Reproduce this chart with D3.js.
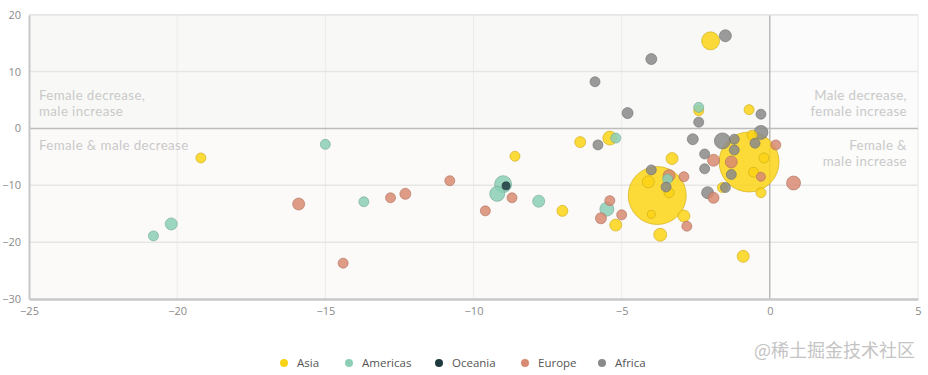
<!DOCTYPE html>
<html><head><meta charset="utf-8">
<script src="https://cdn.jsdelivr.net/npm/d3@7"></script>
<style>
html,body{margin:0;padding:0;background:#fff;}
svg{display:block;font-family:"Open Sans",Lato,sans-serif;}
</style></head>
<body><svg id="chart" width="928" height="375"></svg>
<script>
// [female change %, male change %, population (millions, size)]
const asia = [
  [-19.2,-5.2,39],[-6.4,-2.4,47],[-5.4,-1.7,76],[-8.6,-4.9,39],[-7.0,-14.5,47],
  [-5.2,-17.0,56],[-2.0,15.4,126],[-2.4,3.1,39],[-0.7,3.3,39],[-0.6,-1.2,39],
  [-3.3,-5.3,56],[-0.2,-5.2,39],[-0.55,-7.7,39],[-3.8,-11.8,1310],[-0.7,-5.9,1400],
  [-4.1,-9.4,56],[-3.4,-11.3,39],[-4.0,-15.1,25],[-2.9,-15.4,56],[-3.7,-18.7,66],
  [-0.9,-22.5,56],[-0.3,-11.3,39],[-1.6,-10.4,39]
];
const americas = [
  [-20.8,-18.9,39],[-20.2,-16.8,56],[-15.0,-2.8,39],[-13.7,-12.9,39],[-9.0,-9.8,112],
  [-9.2,-11.5,88],[-7.8,-12.8,56],[-5.5,-14.2,76],[-5.2,-1.7,39],[-2.4,3.7,39],
  [-3.45,-8.9,39]
];
const oceania = [
  [-8.9,-10.1,25]
];
const europe = [
  [-15.9,-13.3,56],[-12.8,-12.2,39],[-12.3,-11.5,47],[-10.8,-9.2,39],[-14.4,-23.7,39],
  [-8.7,-12.2,39],[-9.6,-14.5,39],[-5.4,-12.7,39],[-5.7,-15.8,47],[-5.0,-15.2,39],
  [-1.9,-5.6,56],[-1.3,-5.9,56],[0.2,-2.9,39],[-0.3,-8.5,32],[0.8,-9.6,76],
  [-1.9,-12.2,47],[-3.4,-8.3,56],[-2.9,-8.5,39],[-2.8,-17.2,39]
];
const africa = [
  [-5.9,8.2,39],[-5.8,-2.9,39],[-4.0,12.2,47],[-1.5,16.3,56],[-4.8,2.7,47],
  [-2.4,1.1,39],[-0.3,2.5,39],[-2.6,-1.9,47],[-1.6,-2.2,100],[-1.2,-1.9,39],
  [-0.3,-0.7,76],[-0.5,-2.6,39],[-1.2,-3.8,39],[-2.2,-4.5,39],[-2.2,-7.1,39],
  [-4.0,-7.3,39],[-1.3,-8.1,39],[-2.1,-11.3,56],[-1.5,-10.4,39],[-3.5,-10.3,39]
];
const regions = ["Asia","Americas","Oceania","Europe","Africa"];
const regionColors = ["#fbd316","#8ccfb6","#1f3a3e","#d88a72","#8a8a8a"];
const xTicks = [-25,-20,-15,-10,-5,0,5];
const yTicks = [20,10,0,-10,-20,-30];
const quadrantLabels = [
  {t:["Female decrease,","male increase"], side:"left", q:"top"},
  {t:["Female & male decrease"], side:"left", q:"bottom"},
  {t:["Male decrease,","female increase"], side:"right", q:"top"},
  {t:["Female &","male increase"], side:"right", q:"bottom"}
];

const seriesData = [asia, americas, oceania, europe, africa];
const points = [];
seriesData.forEach((arr,i)=>arr.forEach(d=>points.push({x:d[0],y:d[1],pop:d[2],region:regions[i]})));

const svg = d3.select("#chart");
const x = d3.scaleLinear().domain([-25,5]).range([29,918]);
const y = d3.scaleLinear().domain([-30,20]).range([299,14.7]);
const r = d3.scaleSqrt().domain([0,1400]).range([0,30]);
const color = d3.scaleOrdinal().domain(regions).range(regionColors);

// quadrant backgrounds
const quads = [
  {x0:-25,x1:0,y0:0,y1:20,c:"#f8f9f7"},
  {x0:-25,x1:0,y0:-30,y1:0,c:"#fcfaf9"},
  {x0:0,x1:5,y0:0,y1:20,c:"#fafbfa"},
  {x0:0,x1:5,y0:-30,y1:0,c:"#fcfcfb"}
];
svg.append("g").selectAll("rect").data(quads).join("rect")
  .attr("x",d=>x(d.x0)).attr("width",d=>x(d.x1)-x(d.x0))
  .attr("y",d=>y(d.y1)).attr("height",d=>y(d.y0)-y(d.y1))
  .attr("fill",d=>d.c);

// grid
const grid = svg.append("g");
grid.selectAll(".vg").data(xTicks.filter(t=>t>-25&&t<5&&t!==0)).join("line")
  .attr("x1",d=>x(d)).attr("x2",d=>x(d)).attr("y1",y(20)).attr("y2",y(-30))
  .attr("stroke","#ebebeb").attr("stroke-width",1);
grid.selectAll(".hg").data(yTicks.filter(t=>t!==0&&t!==-30)).join("line")
  .attr("x1",x(-25)).attr("x2",x(5)).attr("y1",d=>y(d)).attr("y2",d=>y(d))
  .attr("stroke","#e6e6e6").attr("stroke-width",1.5);
grid.append("line").attr("x1",x(5)).attr("x2",x(5)).attr("y1",y(20)).attr("y2",y(-30))
  .attr("stroke","#e8e8e8").attr("stroke-width",1);
grid.append("line").attr("x1",x(0)).attr("x2",x(0)).attr("y1",y(20)).attr("y2",y(-30))
  .attr("stroke","#9a9a9a").attr("stroke-width",1);
grid.append("line").attr("x1",x(-25)).attr("x2",x(5)).attr("y1",y(0)).attr("y2",y(0))
  .attr("stroke","#bcbcbc").attr("stroke-width",1.5);

// quadrant labels (one text per line)
const ql = svg.append("g").attr("font-size",13.3).attr("fill","#c9c9c9")
  .attr("font-family","Lato,'Open Sans',sans-serif").attr("letter-spacing",0.4);
quadrantLabels.forEach(l=>{
  const tx = l.side==="left" ? x(-25)+10 : x(5)-11;
  const anchor = l.side==="left" ? "start" : "end";
  const ty0 = l.q==="top" ? y(0)-28 : y(0)+22;
  l.t.forEach((s,i)=>ql.append("text").attr("text-anchor",anchor)
    .attr("x",tx).attr("y",ty0+i*16).text(s));
});

// axes
const xAxis = svg.append("g").attr("transform",`translate(0,${y(-30)})`)
  .call(d3.axisBottom(x).tickValues(xTicks).tickSize(0).tickPadding(8));
xAxis.select(".domain").attr("stroke","#c8c8c8").attr("stroke-width",2.5);
xAxis.selectAll("text").attr("fill","#8a8a8a").attr("font-size",11).attr("font-family","'Open Sans',Lato,sans-serif");
const yAxis = svg.append("g").attr("transform",`translate(${x(-25)},0)`)
  .call(d3.axisLeft(y).tickValues(yTicks).tickSize(0).tickPadding(8));
yAxis.select(".domain").attr("stroke","#c8c8c8").attr("stroke-width",2);
yAxis.selectAll("text").attr("fill","#8a8a8a").attr("font-size",11).attr("font-family","'Open Sans',Lato,sans-serif");
svg.append("line").attr("x1",x(-25)).attr("x2",x(5)).attr("y1",y(20)).attr("y2",y(20))
  .attr("stroke","#e6e6e6").attr("stroke-width",1.5);

// bubbles
const sorted = points.slice().sort((a,b)=>b.pop-a.pop);
svg.append("g").selectAll("circle").data(sorted).join("circle")
  .attr("cx",d=>x(d.x)).attr("cy",d=>y(d.y)).attr("r",d=>r(d.pop))
  .attr("fill",d=>color(d.region)).attr("fill-opacity",0.85)
  .attr("stroke",d=>d3.color(color(d.region)).darker(0.6)).attr("stroke-opacity",0.6).attr("stroke-width",1);

// legend
const legendX = [284,349,439,525,602];
const lg = svg.append("g").attr("font-size",11.5).attr("fill","#555");
regions.forEach((reg,i)=>{
  lg.append("circle").attr("cx",legendX[i]).attr("cy",363).attr("r",4).attr("fill",color(reg));
  lg.append("text").attr("x",legendX[i]+13).attr("y",367).text(reg);
});

// watermark
svg.append("text").attr("x",915).attr("y",357).attr("text-anchor","end")
  .attr("font-family","'Noto Sans CJK SC',sans-serif").attr("font-size",18)
  .attr("fill","#c4c4c4").text("@稀土掘金技术社区");
</script></body></html>
